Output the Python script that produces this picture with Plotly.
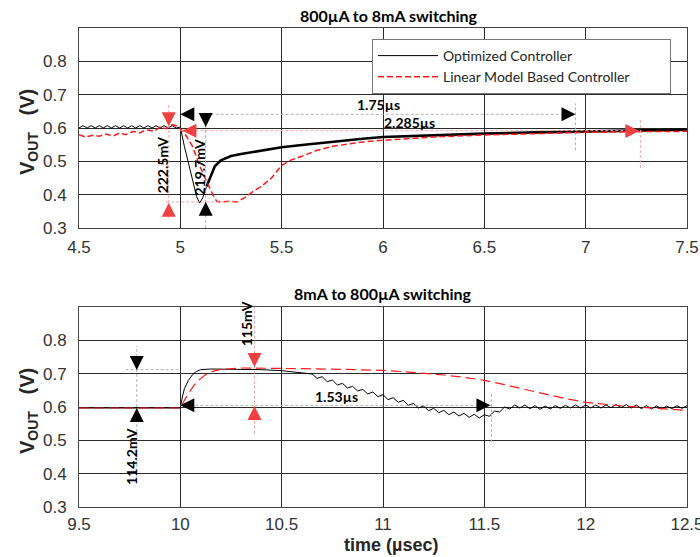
import plotly.graph_objects as go

# ---------------- data: top panel (800uA -> 8mA) ----------------
top_opt_thin_t = [4.50, 4.52, 4.54, 4.56, 4.58, 4.60, 4.62, 4.64, 4.66, 4.68, 4.70, 4.72, 4.74,
                  4.76, 4.78, 4.80, 4.82, 4.84, 4.86, 4.88, 4.90, 4.92, 4.94, 4.96, 4.98, 5.00,
                  5.02, 5.05, 5.08, 5.095, 5.11, 5.13]
top_opt_thin_v = [0.600, 0.607, 0.600, 0.607, 0.600, 0.607, 0.600, 0.607, 0.600, 0.607, 0.600, 0.607, 0.600,
                  0.607, 0.600, 0.607, 0.600, 0.607, 0.600, 0.607, 0.600, 0.607, 0.600, 0.607, 0.600, 0.603,
                  0.545, 0.465, 0.395, 0.375, 0.390, 0.425]
top_opt_thick_t = [5.13, 5.15, 5.17, 5.20, 5.25, 5.30, 5.35, 5.40, 5.45, 5.50, 5.60, 5.70, 5.80,
                   5.90, 6.00, 6.25, 6.50, 6.75, 7.00, 7.25, 7.50]
top_opt_thick_v = [0.425, 0.458, 0.485, 0.503, 0.516, 0.522, 0.527, 0.534, 0.538, 0.542, 0.549, 0.556, 0.563,
                   0.568, 0.573, 0.579, 0.583, 0.587, 0.590, 0.593, 0.595]
top_lin_t = [4.50, 4.53, 4.57, 4.60, 4.63, 4.67, 4.70, 4.73, 4.77, 4.80, 4.83, 4.87, 4.90, 4.93, 4.96, 4.99,
             5.02, 5.06, 5.10, 5.13, 5.16, 5.18, 5.20, 5.24, 5.28, 5.32, 5.36, 5.40, 5.45, 5.50, 5.55,
             5.60, 5.67, 5.75, 5.83, 5.90, 6.00, 6.25, 6.50, 6.75, 7.00, 7.25, 7.50]
top_lin_v = [0.580, 0.573, 0.578, 0.575, 0.582, 0.576, 0.585, 0.580, 0.590, 0.585, 0.595, 0.590, 0.603, 0.598, 0.610, 0.605,
             0.585, 0.545, 0.480, 0.440, 0.400, 0.380, 0.378, 0.380, 0.378, 0.392, 0.410, 0.425, 0.450, 0.488, 0.505,
             0.515, 0.532, 0.545, 0.553, 0.558, 0.563, 0.573, 0.579, 0.584, 0.587, 0.589, 0.590]

# ---------------- data: bottom panel (8mA -> 800uA) ----------------
bot_opt_t = [9.50, 10.00, 10.01, 10.02, 10.04, 10.06, 10.08, 10.10, 10.15, 10.20, 10.30, 10.40, 10.50, 10.60,
             10.650, 10.675, 10.700, 10.725, 10.750, 10.775, 10.800, 10.825, 10.850, 10.875, 10.900, 10.925,
             10.950, 10.975, 11.000, 11.025, 11.050, 11.075, 11.100, 11.125, 11.150, 11.175, 11.200, 11.225,
             11.250, 11.275, 11.300, 11.325, 11.350, 11.375, 11.400, 11.425, 11.450, 11.475, 11.500, 11.525,
             11.550, 11.575, 11.600, 11.625, 11.650, 11.675, 11.700, 11.725, 11.750, 11.775, 11.800, 11.825,
             11.850, 11.875, 11.900, 11.925, 11.950, 11.975, 12.000, 12.025, 12.050, 12.075, 12.100, 12.125,
             12.150, 12.175, 12.200, 12.225, 12.250, 12.275, 12.300, 12.325, 12.350, 12.375, 12.400, 12.425,
             12.450, 12.475, 12.500]
bot_opt_v = [0.597, 0.597, 0.630, 0.655, 0.680, 0.697, 0.707, 0.712, 0.714, 0.714, 0.713, 0.712, 0.709, 0.703,
             0.699, 0.686, 0.691, 0.676, 0.681, 0.666, 0.671, 0.657, 0.662, 0.648, 0.653, 0.639,
             0.645, 0.631, 0.637, 0.622, 0.628, 0.614, 0.620, 0.605, 0.611, 0.597, 0.603, 0.589,
             0.596, 0.583, 0.590, 0.577, 0.585, 0.573, 0.581, 0.569, 0.578, 0.567, 0.577, 0.572,
             0.588, 0.585, 0.600, 0.594, 0.606, 0.597, 0.606, 0.595, 0.604, 0.593, 0.603, 0.594,
             0.604, 0.596, 0.605, 0.597, 0.606, 0.597, 0.606, 0.597, 0.606, 0.597, 0.606, 0.598,
             0.607, 0.598, 0.607, 0.597, 0.606, 0.595, 0.604, 0.594, 0.603, 0.594, 0.603, 0.595,
             0.604, 0.596, 0.604]
bot_lin_t = [9.50, 10.00, 10.02, 10.05, 10.08, 10.12, 10.16, 10.20, 10.30, 10.40, 10.50, 10.60, 10.80, 11.00,
             11.10, 11.20, 11.30, 11.40, 11.50, 11.60, 11.70, 11.80, 11.90, 12.00, 12.10, 12.20, 12.30, 12.40, 12.50]
bot_lin_v = [0.597, 0.597, 0.620, 0.650, 0.675, 0.695, 0.707, 0.713, 0.717, 0.717, 0.716, 0.715, 0.713, 0.710,
             0.706, 0.702, 0.696, 0.689, 0.680, 0.667, 0.653, 0.638, 0.625, 0.614, 0.607, 0.602, 0.598, 0.594, 0.590]

# ---------------- annotation (measurement) data ----------------
top_arrow_x = [4.943, 4.943, 5.000, 6.950, 5.125, 5.125, 5.010, 7.265]
top_arrow_y = [0.605, 0.376, 0.641, 0.641, 0.603, 0.379, 0.592, 0.591]
top_arrow_dir = ["down", "up", "left", "right", "down", "up", "left", "right"]
top_arrow_col = ["red", "red", "black", "black", "black", "black", "red", "red"]
bot_arrow_x = [9.785, 9.785, 10.000, 11.530, 10.366, 10.366]
bot_arrow_y = [0.711, 0.597, 0.605, 0.605, 0.720, 0.603]
bot_arrow_dir = ["down", "up", "left", "right", "down", "up"]
bot_arrow_col = ["black", "black", "black", "black", "red", "red"]

top_guide = [(4.943, 4.943, 0.330, 0.675, "pink"), (4.930, 5.300, 0.378, 0.378, "pink"),
             (5.150, 6.950, 0.641, 0.641, "grey"), (6.950, 6.950, 0.533, 0.674, "grey"),
             (5.125, 5.125, 0.300, 0.641, "grey"), (5.000, 7.270, 0.592, 0.592, "pink"),
             (7.270, 7.270, 0.480, 0.623, "pink")]
bot_guide = [(9.785, 9.785, 0.390, 0.783, "grey"), (9.730, 10.000, 0.712, 0.712, "grey"),
             (10.000, 11.540, 0.605, 0.605, "grey"), (11.535, 11.535, 0.495, 0.642, "grey"),
             (10.366, 10.366, 0.520, 0.900, "pink")]

top_labels = [(4.913, 0.490, "222.5mV", -90), (5.090, 0.483, "219.7mV", -90),
              (5.980, 0.671, "1.75µs", 0), (6.130, 0.617, "2.285µs", 0)]
bot_labels = [(9.756, 0.453, "114.2mV", -90), (10.327, 0.850, "115mV", -90),
              (10.770, 0.633, "1.53µs", 0)]

x_ticks_top = [4.5, 5, 5.5, 6, 6.5, 7, 7.5]
x_ticks_bot = [9.5, 10, 10.5, 11, 11.5, 12, 12.5]
y_ticks = [0.3, 0.4, 0.5, 0.6, 0.7, 0.8]

# ---------------- figure ----------------
W, H = 700, 557
PL, PR, PT, PB = 79, 687, 28, 507   # plot-area edges in page pixels
ML, MR, MT, MB = PL, W - PR, PT, H - PB
PH = H - MT - MB
PW = W - ML - MR

def py(page_y):
    return (PB - page_y) / PH

def pxx(page_x):
    return (page_x - PL) / PW

fig = go.Figure()

RED = "#ff1a1a"
GUIDE_COL = {"grey": "#b4b4b4", "pink": "#f6a8a8"}
ARROW_COL = {"red": "#f04040", "black": "black"}

fig.add_trace(go.Scatter(x=top_opt_thin_t, y=top_opt_thin_v, mode="lines", name="Optimized Controller",
                         line=dict(color="black", width=1), xaxis="x", yaxis="y", legendgroup="opt"))
fig.add_trace(go.Scatter(x=top_opt_thick_t, y=top_opt_thick_v, mode="lines", showlegend=False,
                         line=dict(color="black", width=2.6), xaxis="x", yaxis="y", legendgroup="opt"))
fig.add_trace(go.Scatter(x=top_lin_t, y=top_lin_v, mode="lines",
                         name="Linear Model Based Controller" + "\u00a0" * 10,
                         line=dict(color=RED, width=1.5, dash="6px,3px"), xaxis="x", yaxis="y"))
fig.add_trace(go.Scatter(x=bot_opt_t, y=bot_opt_v, mode="lines", showlegend=False,
                         line=dict(color="black", width=1), xaxis="x2", yaxis="y2"))
fig.add_trace(go.Scatter(x=bot_lin_t, y=bot_lin_v, mode="lines", showlegend=False,
                         line=dict(color=RED, width=1.2, dash="10px,5px"), xaxis="x2", yaxis="y2"))

for guides, xa, ya in [(top_guide, "x", "y"), (bot_guide, "x2", "y2")]:
    for x0, x1, y0, y1, c in guides:
        fig.add_trace(go.Scatter(x=[x0, x1], y=[y0, y1], mode="lines", showlegend=False, hoverinfo="skip",
                                 line=dict(color=GUIDE_COL[c], width=1, dash="3px,2px"), xaxis=xa, yaxis=ya))

for ax, ay, ad, ac, xa, ya in [(top_arrow_x, top_arrow_y, top_arrow_dir, top_arrow_col, "x", "y"),
                                (bot_arrow_x, bot_arrow_y, bot_arrow_dir, bot_arrow_col, "x2", "y2")]:
    fig.add_trace(go.Scatter(x=ax, y=ay, mode="markers", showlegend=False, hoverinfo="skip",
                             marker=dict(symbol=["arrow-" + d for d in ad], size=14,
                                         color=[ARROW_COL[c] for c in ac], line=dict(width=0)),
                             xaxis=xa, yaxis=ya, cliponaxis=False))

annotations = []
for labels, xa, ya in [(top_labels, "x", "y"), (bot_labels, "x2", "y2")]:
    for lx, ly, txt, ang in labels:
        annotations.append(dict(x=lx, y=ly, xref=xa, yref=ya, text="<b>" + txt + "</b>", textangle=ang,
                                xanchor="center", yanchor="middle",
                                showarrow=False, font=dict(family="Lato", size=14, color="black")))

def paper_text(x, y, text, size, family, angle=0):
    annotations.append(dict(x=pxx(x), y=py(y), xref="paper", yref="paper", text=text, textangle=angle,
                            xanchor="center", yanchor="middle", showarrow=False,
                            font=dict(family=family, size=size, color="black" if family == "Lato" else "#262626")))

paper_text(389, 16, "<b>800µA to 8mA switching</b>", 16, "Lato")
paper_text(383, 293, "<b>8mA to 800µA switching</b>", 16, "Lato")
for yc in [132, 411]:
    paper_text(28, yc, "<b>V<sub>OUT</sub>\u00a0\u00a0\u00a0(V)</b>", 20, "Liberation Sans", -90)
paper_text(391, 545, "<b>time (µsec)</b>", 18, "Liberation Sans")

axis_common = dict(showgrid=True, gridcolor="#2a2a2a", gridwidth=1, zeroline=False,
                   showline=True, linecolor="#444444", linewidth=1, mirror=True,
                   tickfont=dict(family="Liberation Sans", size=17, color="#333333"),
                   ticks="", automargin=False, ticklabeloverflow="allow")

top_dom = [py(228), 1.0]
bot_dom = [0.0, py(307)]

fig.update_layout(
    width=W, height=H, margin=dict(l=ML, r=MR, t=MT, b=MB, autoexpand=False),
    plot_bgcolor="white", paper_bgcolor="white",
    xaxis=dict(domain=[0, 1], range=[4.5, 7.5], tickvals=x_ticks_top, anchor="y", ticklabelstandoff=4, **axis_common),
    yaxis=dict(domain=top_dom, range=[0.3, 0.9], tickvals=y_ticks, anchor="x", ticklabelstandoff=8, **axis_common),
    xaxis2=dict(domain=[0, 1], range=[9.5, 12.5], tickvals=x_ticks_bot, anchor="y2", ticklabelstandoff=2, **axis_common),
    yaxis2=dict(domain=bot_dom, range=[0.3, 0.9], tickvals=y_ticks, anchor="x2", ticklabelstandoff=8, **axis_common),
    legend=dict(x=pxx(372), y=py(39), xanchor="left", yanchor="top", bgcolor="white",
                bordercolor="#777777", borderwidth=1, font=dict(family="Lato", size=14, color="#262626"),
                tracegroupgap=0, itemwidth=60),
    annotations=annotations,
    showlegend=True,
)

# remove the browser's default 8px body margin so the figure sits at the page origin
fig.write_html("out.html", config={"displayModeBar": False},
               post_script="document.body.style.margin='0px';")
